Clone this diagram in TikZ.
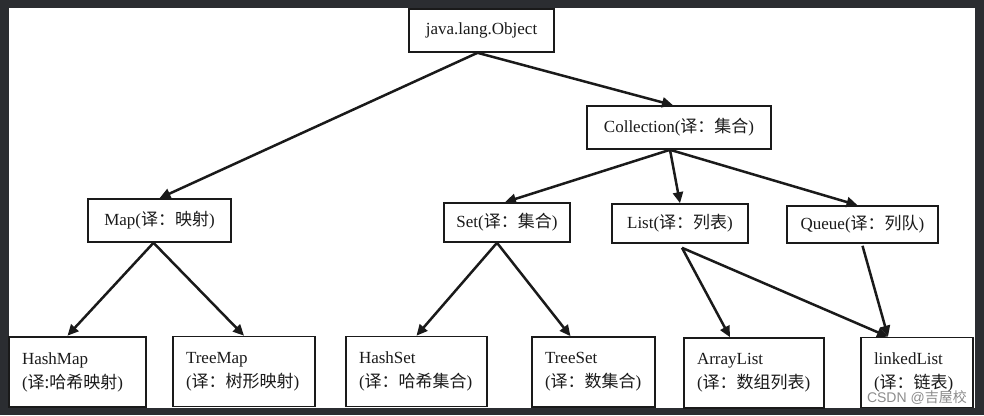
\documentclass[tikz,border=0pt]{standalone}
\usepackage{fontspec}
\setmainfont{Liberation Serif}
\newfontfamily\cjkf{Noto Sans CJK SC}
\newfontfamily\wmfont{Liberation Sans}
\usetikzlibrary{arrows.meta}
\newcommand\zhtxt[1]{{\cjkf #1}}
\definecolor{frame}{HTML}{2B2D31}
\definecolor{ink}{HTML}{1A1A1A}
\begin{document}
\begin{tikzpicture}[x=1pt,y=-1pt,
  box/.style={draw=ink, line width=1.6pt, inner sep=0pt, text=ink,
    font=\fontsize{17}{20}\selectfont},
  leaf/.style={draw=ink, line width=1.6pt, inner xsep=13pt, inner ysep=0pt,
    align=left, minimum height=70pt, text=ink,
    font=\fontsize{17}{24}\selectfont},
  arr/.style={draw=ink, line width=2.5pt, -{Triangle[length=11pt,width=10pt]}}
]
\useasboundingbox (0,0) rectangle (984,415);
\fill[frame] (0,0) rectangle (984,415);
\fill[white] (9,8) rectangle (975,408);

% upper nodes
\node[box, minimum width=145pt, minimum height=43pt] (obj) at (481.5,30.5) {java.lang.Object};
\node[box, minimum width=184pt, minimum height=43pt] (coll) at (679,127.5) {Collection(\zhtxt{译：集合})};
\node[box, minimum width=143pt, minimum height=43pt] (map) at (159.5,220.5) {Map(\zhtxt{译：映射})};
\node[box, minimum width=126pt, minimum height=39pt] (set) at (507,222.5) {Set(\zhtxt{译：集合})};
\node[box, minimum width=136pt, minimum height=39pt] (list) at (680,223.5) {List(\zhtxt{译：列表})};
\node[box, minimum width=151pt, minimum height=37pt] (queue) at (862.5,224.5) {Queue(\zhtxt{译：列队})};

% leaf nodes
\node[leaf, line width=2.6pt, text width=111pt] (hashmap) at (77.5,372) {HashMap\\(\zhtxt{译:哈希映射})};
\node[leaf, text width=116pt] (treemap) at (244,371.5) {TreeMap\\(\zhtxt{译：树形映射})};
\node[leaf, text width=115pt] (hashset) at (416.5,371.5) {HashSet\\(\zhtxt{译：哈希集合})};
\node[leaf, text width=97pt] (treeset) at (593.5,372) {TreeSet\\(\zhtxt{译：数集合})};
\node[leaf, text width=114pt] (arraylist) at (754,373) {ArrayList\\(\zhtxt{译：数组列表})};
\node[leaf, text width=86pt] (linkedlist) at (917,372.5) {linkedList\\(\zhtxt{译：链表})};

% watermark
\node[inner sep=0pt, text=black!45, font=\wmfont\fontsize{14}{16}\selectfont, anchor=east] (wm) at (967,398) {CSDN @\zhtxt{吉屋校}};

% connectors
\draw[arr] ([xshift=-4pt]obj.south) -- (map.north);
\draw[arr] ([xshift=-4pt]obj.south) -- ([xshift=-6pt]coll.north);
\draw[arr] ([xshift=-9pt]coll.south) -- ([xshift=-2pt]set.north);
\draw[arr] ([xshift=-9pt]coll.south) -- (list.north);
\draw[arr] ([xshift=-9pt]coll.south) -- ([xshift=-5pt]queue.north);
\draw[arr] ([xshift=-6pt]map.south) -- ([xshift=-10pt]hashmap.north);
\draw[arr] ([xshift=-6pt]map.south) -- (treemap.north);
\draw[arr] ([xshift=-10pt]set.south) -- (hashset.north);
\draw[arr] ([xshift=-10pt]set.south) -- ([xshift=-23pt]treeset.north);
\draw[arr] ([xshift=2pt,yshift=-4pt]list.south) -- ([xshift=-24pt]arraylist.north);
\draw[arr] ([xshift=2pt,yshift=-4pt]list.south) -- ([xshift=-29pt]linkedlist.north);
\draw[arr] ([yshift=-2pt]queue.south) -- ([xshift=-29pt]linkedlist.north);
\end{tikzpicture}
\end{document}
